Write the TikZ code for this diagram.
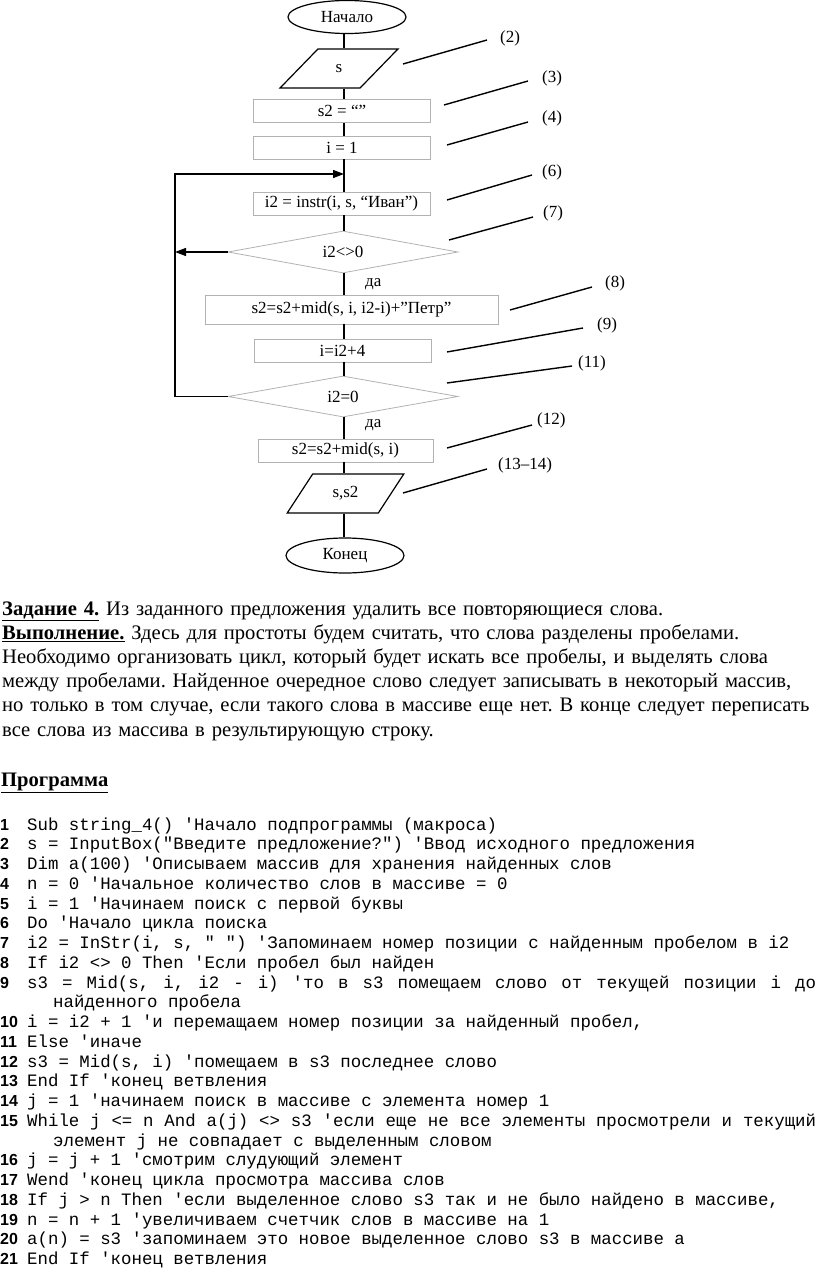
\documentclass[tikz,border=0pt]{standalone}
\usepackage{fontspec}
\setmainfont{Liberation Serif}
\setsansfont{Liberation Sans}
\setmonofont{Liberation Mono}
\usetikzlibrary{shapes.geometric,arrows.meta,positioning}
\newcommand{\lnum}[1]{\makebox[27pt][l]{\fontsize{16}{16}\sffamily\bfseries #1}}
\newcommand{\spread}[1]{\hbox to 789pt{\spaceskip=0.6em plus 1fil\relax #1}}
\frenchspacing

\begin{document}
\begin{tikzpicture}[x=1pt,y=-1pt,
  term/.style={ellipse,draw,line width=1.2pt,minimum width=118pt,minimum height=33pt,
               inner sep=0pt,font=\fontsize{17}{19}\selectfont},
  io/.style={trapezium,trapezium left angle=54,trapezium right angle=126,trapezium stretches=true,
             draw,line width=1.2pt,minimum width=118pt,minimum height=39pt,inner sep=0pt,
             font=\fontsize{17}{19}\selectfont},
  proc/.style={rectangle,draw=gray!60,line width=0.8pt,minimum width=177pt,minimum height=23pt,
               inner sep=0pt,font=\fontsize{17}{19}\selectfont},
  dia/.style={diamond,aspect=5.5,draw=gray!60,line width=0.8pt,minimum width=230pt,minimum height=42pt,
              inner sep=0pt,font=\fontsize{17}{19}\selectfont},
  conn/.style={line width=1.2pt},
  arr/.style={conn,-{Triangle[length=11pt,width=8pt]}},
  lead/.style={line width=1.4pt},
  tag/.style={anchor=west,inner sep=0pt,font=\fontsize{17}{19}\selectfont},
  para/.style={anchor=base west,inner sep=0pt,text width=816pt,align=left}
]
  \useasboundingbox (0,0) rectangle (816,1273);
  \coordinate (axis) at (344,0);

  % flowchart
  \node[term] (start) at (347,17) {Начало};
  \node[io] (in) at (339,68.5) {s};
  \node[proc] (init) at (342,111) {s2 = “”};
  \node[proc] (iset) at (342,147.5) {i = 1};
  \node[proc] (find) at (341.5,203.5) {i2 = instr(i, s, “Иван”)};
  \node[dia] (test1) at (343,252) {i2<>0};
  \node[proc,minimum width=293pt,minimum height=29pt] (glue) at (351.5,309.5) {s2=s2+mid(s, i, i2-i)+”Петр”};
  \node[proc] (inext) at (342.5,350.5) {i=i2+4};
  \node[dia,minimum height=41pt] (test2) at (343,396.5) {i2=0};
  \node[proc,minimum width=175pt] (tail) at (345.5,450.5) {s2=s2+mid(s, i)};
  \node[io,minimum width=117pt] (out) at (345.5,493.5) {s,s2};
  \node[term,minimum height=35pt] (stop) at (345,555.5) {Конец};

  \node[tag] (yes1) at (365,284) {да};
  \node[tag] (yes2) at (365,425) {да};

  \foreach \a/\b in {start/in,in/init,init/iset,iset/find,find/test1,test1/glue,
                     glue/inext,inext/test2,test2/tail,tail/out,out/stop}
    \draw[conn] (axis |- \a.south) -- (axis |- \b.north);

  % loop back
  \coordinate (loopx) at (175,0);
  \coordinate (loopin) at (344,174);
  \draw[arr] (test2.west) -- (loopx |- test2.west) -- (loopx |- loopin) -- (loopin);
  \draw[arr] (test1.west) -- (loopx |- test1.west);

  % step numbers
  \foreach \id/\txt/\a/\b/\l in {2/{(2)}/{403,64}/{487,40}/{500,38},
                                 3/{(3)}/{444,105}/{528,81}/{542,78},
                                 4/{(4)}/{447,145}/{528,122}/{542,118},
                                 6/{(6)}/{447,200}/{532,175}/{542,172},
                                 7/{(7)}/{449,240}/{533,217}/{543,213},
                                 8/{(8)}/{510,310}/{592,287}/{605,283},
                                 9/{(9)}/{447,352}/{583,328}/{597,325},
                                 11/{(11)}/{447,383}/{572,366}/{578,363},
                                 12/{(12)}/{447,448}/{532,425}/{537,420},
                                 13/{(13–14)}/{403,493}/{487,469}/{498,465}} {
    \coordinate (c\id) at (\a);
    \coordinate (e\id) at (\b);
    \node[tag] (n\id) at (\l) {\txt};
    \draw[lead] (c\id) -- (e\id);
  }

  % task text
  \node[para,font=\fontsize{20.6}{24.2}\selectfont] (task) at (2,615) {%
    \underline{\textbf{Задание 4.}} Из заданного предложения удалить все повторяющиеся слова.\\
    \underline{\textbf{Выполнение.}} Здесь для простоты будем считать, что слова разделены пробелами.\\
    Необходимо организовать цикл, который будет искать все пробелы, и выделять слова\\
    между пробелами. Найденное очередное слово следует записывать в некоторый массив,\\
    но только в том случае, если такого слова в массиве еще нет. В конце следует переписать\\
    все слова из массива в результирующую строку.};
  \node[para,font=\fontsize{20.6}{24.2}\selectfont] (head) at (1,786) {\underline{\textbf{Программа}}};

  % program listing
  \node[para,font=\fontsize{17.4}{19.75}\selectfont\ttfamily] (prog) at (0,830) {%
    \spaceskip=0.6em\relax\xspaceskip=0.6em\relax
    \lnum{1}Sub string\_4() 'Начало подпрограммы (макроса)\\
    \lnum{2}s = InputBox("Введите предложение?") 'Ввод исходного предложения\\
    \lnum{3}Dim a(100) 'Описываем массив для хранения найденных слов\\
    \lnum{4}n = 0 'Начальное количество слов в массиве = 0\\
    \lnum{5}i = 1 'Начинаем поиск с первой буквы\\
    \lnum{6}Do 'Начало цикла поиска\\
    \lnum{7}i2 = InStr(i, s, " ") 'Запоминаем номер позиции с найденным пробелом в i2\\
    \lnum{8}If i2 <> 0 Then 'Если пробел был найден\\
    \lnum{9}\spread{s3 = Mid(s, i, i2 - i) 'то в s3 помещаем слово от текущей позиции i до}\\
    \hspace*{53pt}найденного пробела\\
    \lnum{10}i = i2 + 1 'и перемащаем номер позиции за найденный пробел,\\
    \lnum{11}Else 'иначе\\
    \lnum{12}s3 = Mid(s, i) 'помещаем в s3 последнее слово\\
    \lnum{13}End If 'конец ветвления\\
    \lnum{14}j = 1 'начинаем поиск в массиве с элемента номер 1\\
    \lnum{15}\spread{While j <= n And a(j) <> s3 'если еще не все элементы просмотрели и текущий}\\
    \hspace*{53pt}элемент j не совпадает с выделенным словом\\
    \lnum{16}j = j + 1 'смотрим слудующий элемент\\
    \lnum{17}Wend 'конец цикла просмотра массива слов\\
    \lnum{18}If j > n Then 'если выделенное слово s3 так и не было найдено в массиве,\\
    \lnum{19}n = n + 1 'увеличиваем счетчик слов в массиве на 1\\
    \lnum{20}a(n) = s3 'запоминаем это новое выделенное слово s3 в массиве a\\
    \lnum{21}End If 'конец ветвления};
\end{tikzpicture}
\end{document}
